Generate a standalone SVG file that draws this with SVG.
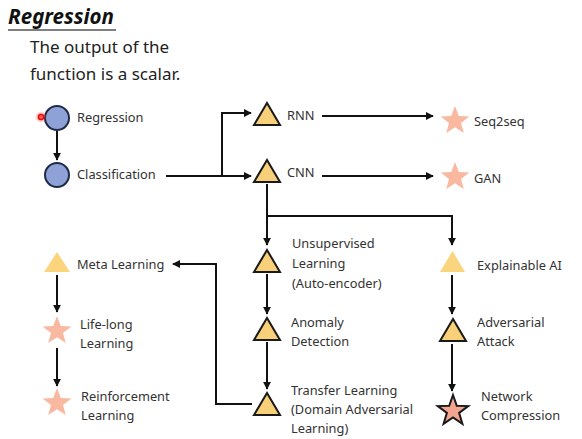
<svg xmlns="http://www.w3.org/2000/svg" width="582" height="439" viewBox="0 0 582 439">
<defs>
<style>
text{font-family:"Noto Sans","Open Sans",sans-serif;fill:#333;font-size:12.8px}
.tri{fill:#f7d079;stroke:#1a1a1a;stroke-width:2;stroke-linejoin:miter}
.tril{fill:#fbd57e;stroke:none}
.star{fill:#f9b8a0;stroke:none}
.starb{fill:#f4a58f;stroke:#1a1a1a;stroke-width:2}
.circ{fill:#8fa2d8;stroke:#1f2a44;stroke-width:2}
.ln{fill:none;stroke:#111;stroke-width:2}
</style>
<marker id="ah" viewBox="0 0 10 10" refX="9" refY="5" markerWidth="4" markerHeight="4" orient="auto-start-reverse" markerUnits="strokeWidth">
<path d="M0,0 L10,5 L0,10 z" fill="#111"/>
</marker>
<polygon id="st" points="0,-15 3.8,-5 14.3,-4.6 6,2 8.8,12.1 0,6.3 -8.8,12.1 -6,2 -14.3,-4.6 -3.8,-5"/>
<radialGradient id="glow"><stop offset="0" stop-color="#ff3030" stop-opacity="0.9"/><stop offset="1" stop-color="#ff3030" stop-opacity="0"/></radialGradient>
</defs>
<rect width="582" height="439" fill="#ffffff"/>
<g id="title">
<text x="8" y="24" style="font-size:20.5px;font-weight:bold;font-style:italic;fill:#111">Regression</text>
<line x1="8" y1="30" x2="116" y2="30" stroke="#555" stroke-width="1.5"/>
<text x="30" y="53" style="font-size:17px;fill:#222">The output of the</text>
<text x="30" y="80" style="font-size:17px;fill:#222">function is a scalar.</text>
</g>
<g id="connectors">
<line class="ln" x1="57" y1="131" x2="57" y2="160" marker-end="url(#ah)"/>
<line class="ln" x1="166" y1="176" x2="251" y2="176" marker-end="url(#ah)"/>
<polyline class="ln" points="222,176 222,113 251,113" marker-end="url(#ah)"/>
<line class="ln" x1="322" y1="116" x2="433" y2="116" marker-end="url(#ah)"/>
<line class="ln" x1="322" y1="176" x2="433" y2="176" marker-end="url(#ah)"/>
<line class="ln" x1="267" y1="184" x2="267" y2="245" marker-end="url(#ah)"/>
<polyline class="ln" points="267,216 452,216 452,245" marker-end="url(#ah)"/>
<line class="ln" x1="267" y1="274" x2="267" y2="314" marker-end="url(#ah)"/>
<line class="ln" x1="267" y1="342" x2="267" y2="389" marker-end="url(#ah)"/>
<line class="ln" x1="452" y1="275" x2="452" y2="314" marker-end="url(#ah)"/>
<line class="ln" x1="452" y1="344" x2="452" y2="391" marker-end="url(#ah)"/>
<polyline class="ln" points="252,404 216,404 216,264 173,264" marker-end="url(#ah)"/>
<line class="ln" x1="57" y1="275" x2="57" y2="312" marker-end="url(#ah)"/>
<line class="ln" x1="57" y1="348" x2="57" y2="386" marker-end="url(#ah)"/>
</g>
<g id="regression">
<circle class="circ" cx="57" cy="118" r="12"/>
<circle cx="41" cy="117" r="6" fill="url(#glow)"/>
<circle cx="41" cy="117" r="2.5" fill="none" stroke="#e01010" stroke-width="1.5"/>
<text x="77" y="122">Regression</text>
</g>
<g id="classification">
<circle class="circ" cx="57" cy="175" r="12"/>
<text x="77" y="179">Classification</text>
</g>
<g id="rnn">
<polygon class="tri" points="254,125 280,125 267,103"/>
<text x="287" y="120">RNN</text>
</g>
<g id="cnn">
<polygon class="tri" points="254,182 280,182 267,160"/>
<text x="287" y="177">CNN</text>
</g>
<g id="seq2seq">
<use href="#st" class="star" x="455" y="121"/>
<text x="474" y="126">Seq2seq</text>
</g>
<g id="gan">
<use href="#st" class="star" x="455" y="177"/>
<text x="474" y="183">GAN</text>
</g>
<g id="unsupervised">
<polygon class="tri" points="254,272 280,272 267,250"/>
<text x="292" y="248">Unsupervised</text>
<text x="292" y="268">Learning</text>
<text x="292" y="288">(Auto-encoder)</text>
</g>
<g id="anomaly">
<polygon class="tri" points="254,340 280,340 267,318"/>
<text x="291" y="327">Anomaly</text>
<text x="291" y="346">Detection</text>
</g>
<g id="transfer">
<polygon class="tri" points="254,415 280,415 267,393"/>
<text x="291" y="395">Transfer Learning</text>
<text x="291" y="414">(Domain Adversarial</text>
<text x="291" y="433">Learning)</text>
</g>
<g id="explainable">
<polygon class="tril" points="440,272 465,272 452.5,251"/>
<text x="477" y="270">Explainable AI</text>
</g>
<g id="adversarial">
<polygon class="tri" points="440,341 466,341 453,319"/>
<text x="477" y="327">Adversarial</text>
<text x="477" y="346">Attack</text>
</g>
<g id="compression">
<polygon class="starb" transform="translate(453,411)" points="0,-16 3.8,-5.2 15.2,-4.9 6.1,1.9 9.4,12.9 0,6.4 -9.4,12.9 -6.1,1.9 -15.2,-4.9 -3.8,-5.2"/>
<text x="481" y="401">Network</text>
<text x="481" y="420">Compression</text>
</g>
<g id="meta">
<polygon class="tril" points="44,272 70,272 57,252"/>
<text x="77" y="269">Meta Learning</text>
</g>
<g id="lifelong">
<use href="#st" class="star" x="57" y="331"/>
<text x="80" y="329">Life-long</text>
<text x="80" y="348">Learning</text>
</g>
<g id="reinforcement">
<use href="#st" class="star" x="57" y="403"/>
<text x="81" y="401">Reinforcement</text>
<text x="81" y="420">Learning</text>
</g>
</svg>
